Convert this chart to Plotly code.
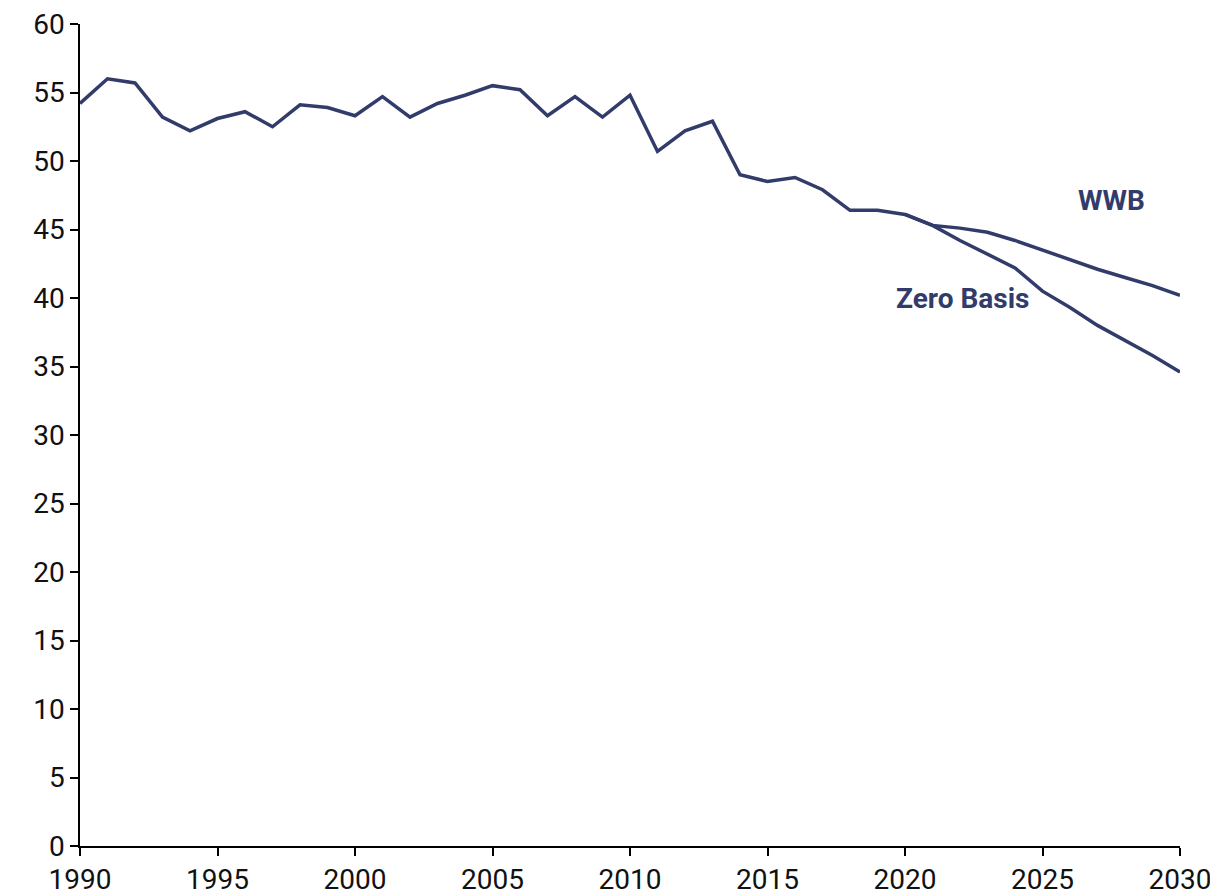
import plotly.graph_objects as go

years_wwb = list(range(1990, 2031))
wwb = [54.2, 56.0, 55.7, 53.2, 52.2, 53.1, 53.6, 52.5, 54.1, 53.9,
       53.3, 54.7, 53.2, 54.2, 54.8, 55.5, 55.2, 53.3, 54.7, 53.2,
       54.8, 50.7, 52.2, 52.9, 49.0, 48.5, 48.8, 47.9, 46.4, 46.4,
       46.1, 45.3, 45.1, 44.8, 44.2, 43.5, 42.8, 42.1, 41.5, 40.9,
       40.2]
years_zb = list(range(2020, 2031))
zero_basis = [46.1, 45.3, 44.2, 43.2, 42.2, 40.5, 39.3, 38.0, 36.9, 35.8, 34.6]

line_color = "#323C6B"

fig = go.Figure()
fig.add_trace(go.Scatter(x=years_wwb, y=wwb, mode="lines", name="WWB",
                         line=dict(color=line_color, width=3.5)))
fig.add_trace(go.Scatter(x=years_zb, y=zero_basis, mode="lines", name="Zero Basis",
                         line=dict(color=line_color, width=3.5)))

fig.add_annotation(x=2027.5, y=47.1, text="<b>WWB</b>", showarrow=False,
                   font=dict(family="Roboto", size=28, color=line_color))
fig.add_annotation(x=2022.1, y=40.0, text="<b>Zero Basis</b>", showarrow=False,
                   font=dict(family="Roboto", size=28, color=line_color))

fig.update_layout(
    width=1210, height=885,
    margin=dict(l=72, r=38, t=16, b=47, autoexpand=False),
    plot_bgcolor="white", paper_bgcolor="white",
    showlegend=False,
    font=dict(family="Roboto", size=28, color="#111111"),
)
fig.update_xaxes(range=[1990, 2030], tick0=1990, dtick=5, showgrid=False,
                 showline=True, linecolor="black", linewidth=1.5,
                 ticks="outside", ticklen=8, tickcolor="black", tickwidth=1.5,
                 zeroline=False, automargin=False, ticklabeloverflow="allow")
fig.update_yaxes(range=[0, 60], tick0=0, dtick=5, showgrid=False,
                 showline=True, linecolor="black", linewidth=1.5,
                 ticks="outside", ticklen=8, tickcolor="black", tickwidth=1.5,
                 zeroline=False, automargin=False, ticklabeloverflow="allow")

fig.write_html("out.html")
